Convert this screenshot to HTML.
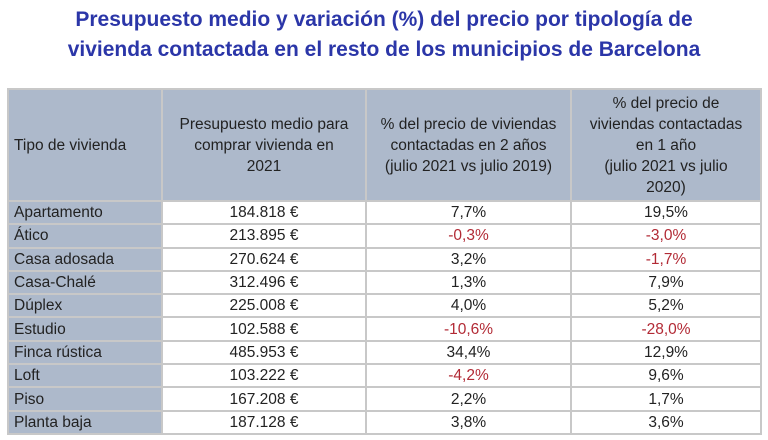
<!DOCTYPE html>
<html><head><style>
body{margin:0;width:768px;height:440px;background:#fff;font-family:"Liberation Sans",sans-serif;position:relative;overflow:hidden}
.t{position:absolute;left:0;width:768px;text-align:center;color:#2b36a8;font-weight:bold;font-size:21px;line-height:30px;top:5px}
table{position:absolute;left:7px;top:88px;border-collapse:collapse;width:753px;font-size:15.5px;color:#222;table-layout:fixed}
td{border:2px solid #c8c8c8;padding:0 4px;text-align:center;line-height:19px;white-space:nowrap;overflow:hidden}
tr{height:23.3px}
td:first-child{text-align:left;background:#adb9cb;padding-left:5px}
tr.h{height:112px}
tr.h td{background:#adb9cb;line-height:21px}
.r{color:#b22a35}
</style></head><body>
<div class="t">Presupuesto medio y variación (%) del precio por tipología de<br>vivienda contactada en el resto de los municipios de Barcelona</div>
<table>
<colgroup><col style="width:154px"><col style="width:204px"><col style="width:205px"><col style="width:190px"></colgroup>
<tr class="h"><td>Tipo de vivienda</td><td>Presupuesto medio para<br>comprar vivienda en<br>2021</td><td>% del precio de viviendas<br>contactadas en 2 años<br>(julio 2021 vs julio 2019)</td><td>% del precio de<br>viviendas contactadas<br>en 1 año<br>(julio 2021 vs julio<br>2020)</td></tr>
<tr><td>Apartamento</td><td>184.818 €</td><td>7,7%</td><td>19,5%</td></tr>
<tr><td>Ático</td><td>213.895 €</td><td class="r">-0,3%</td><td class="r">-3,0%</td></tr>
<tr><td>Casa adosada</td><td>270.624 €</td><td>3,2%</td><td class="r">-1,7%</td></tr>
<tr><td>Casa-Chalé</td><td>312.496 €</td><td>1,3%</td><td>7,9%</td></tr>
<tr><td>Dúplex</td><td>225.008 €</td><td>4,0%</td><td>5,2%</td></tr>
<tr><td>Estudio</td><td>102.588 €</td><td class="r">-10,6%</td><td class="r">-28,0%</td></tr>
<tr><td>Finca rústica</td><td>485.953 €</td><td>34,4%</td><td>12,9%</td></tr>
<tr><td>Loft</td><td>103.222 €</td><td class="r">-4,2%</td><td>9,6%</td></tr>
<tr><td>Piso</td><td>167.208 €</td><td>2,2%</td><td>1,7%</td></tr>
<tr><td>Planta baja</td><td>187.128 €</td><td>3,8%</td><td>3,6%</td></tr>
</table>
</body></html>
